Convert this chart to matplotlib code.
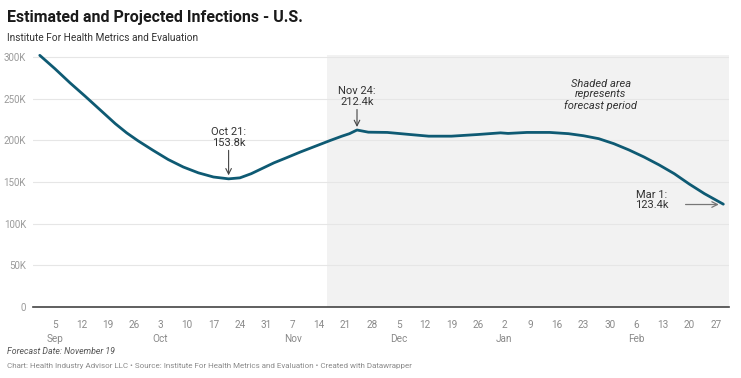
import matplotlib
matplotlib.use("Agg")
import matplotlib.pyplot as plt
import matplotlib.dates as mdates
import pandas as pd

plt.rcParams['font.family'] = ['Roboto', 'DejaVu Sans']

# data (thousands of infections)
dates = ["2021-09-01", "2021-09-05", "2021-09-09", "2021-09-13", "2021-09-17",
         "2021-09-21", "2021-09-24", "2021-09-27", "2021-10-01", "2021-10-05",
         "2021-10-09", "2021-10-13", "2021-10-17", "2021-10-21", "2021-10-24",
         "2021-10-27", "2021-10-30", "2021-11-02", "2021-11-05", "2021-11-09",
         "2021-11-13", "2021-11-17", "2021-11-20", "2021-11-22", "2021-11-24",
         "2021-11-27", "2021-12-02", "2021-12-08", "2021-12-13", "2021-12-19",
         "2021-12-26", "2022-01-01", "2022-01-03", "2022-01-08", "2022-01-14",
         "2022-01-19", "2022-01-23", "2022-01-27", "2022-01-31", "2022-02-04",
         "2022-02-08", "2022-02-12", "2022-02-16", "2022-02-20", "2022-02-24",
         "2022-03-01"]
infections = [302, 286, 269, 253, 236.5,
              220, 209, 199.5, 188, 177,
              168, 161, 156, 153.8, 155,
              160, 166.5, 173, 178.5, 186,
              193, 200, 205, 208, 212.4,
              209.8, 209.5, 207, 205, 205,
              207, 209, 208.3, 209.5, 209.5,
              208, 205.5, 202, 196, 188.5,
              180, 170.5, 160, 147.5, 136,
              123.4]
forecast_start = "2021-11-16"
yticks = [0, 50, 100, 150, 200, 250, 300]
ytick_labels = ["0", "50K", "100K", "150K", "200K", "250K", "300K"]

x = mdates.date2num(pd.to_datetime(dates))
y = [v * 1000 for v in infections]

fig = plt.figure(figsize=(7.41, 3.78), dpi=100)
ax = fig.add_axes([0.0445, 0.1878, 0.9393, 0.668])

sep5 = mdates.date2num(pd.Timestamp("2021-09-05"))
ax.set_xlim(sep5 - 5.8, sep5 + 178.5)
ax.set_ylim(0, 303000)

fs = mdates.date2num(pd.Timestamp(forecast_start))
ax.axvspan(fs, sep5 + 178.5, color="#f2f2f2", zorder=0, lw=0)

for t in yticks[1:]:
    ax.axhline(t * 1000, color="#e6e6e6", lw=0.8, zorder=1)
ax.axhline(0, color="#444444", lw=1.2, zorder=3, clip_on=False)

ax.plot(x, y, color="#0e5a73", lw=2.0, zorder=4, clip_on=False,
        solid_capstyle="round", solid_joinstyle="round")

for s in ax.spines.values():
    s.set_visible(False)

ax.set_yticks([t * 1000 for t in yticks])
ax.set_yticklabels(ytick_labels)
ax.tick_params(axis="y", length=0, pad=5, labelsize=7, labelcolor="#9a9a9a")

# weekly ticks, month name under first tick of each month
ticks = pd.date_range("2021-09-05", "2022-02-27", freq="7D")
labels = []
prev_month = None
for d in ticks:
    if d.month != prev_month:
        labels.append(f"{d.day}\n{d.strftime('%b')}")
        prev_month = d.month
    else:
        labels.append(str(d.day))
ax.set_xticks(mdates.date2num(ticks))
ax.set_xticklabels(labels, linespacing=1.5)
ax.tick_params(axis="x", length=0, pad=9, labelsize=7.2, labelcolor="#8a8a8a")

# annotations
ann = dict(ha="center", va="bottom", fontsize=8, color="#333333", linespacing=1.1)
arrow = dict(arrowstyle="->", color="#444444", lw=0.8, shrinkA=0, shrinkB=0)

d_oct = mdates.date2num(pd.Timestamp("2021-10-21"))
ax.annotate("", xy=(d_oct, 158000), xytext=(d_oct, 188000), arrowprops=arrow)
ax.text(d_oct, 191000, "Oct 21:\n153.8k", **ann)

d_nov = mdates.date2num(pd.Timestamp("2021-11-24"))
ax.annotate("", xy=(d_nov, 216000), xytext=(d_nov, 237000), arrowprops=arrow)
ax.text(d_nov, 240000, "Nov 24:\n212.4k", **ann)

d_mar = mdates.date2num(pd.Timestamp("2022-03-01"))
ax.annotate("", xy=(d_mar - 1.2, 123000), xytext=(d_mar - 10, 123000),
            arrowprops=dict(arrowstyle="->", color="#777777", lw=0.9, shrinkA=0, shrinkB=0))
ax.text(d_mar - 19, 116000, "Mar 1:\n123.4k", **ann)

ax.text(sep5 + 144.5, 235000, "Shaded area\nrepresents\nforecast period",
        ha="center", va="bottom", fontsize=8, color="#333333", style="italic",
        linespacing=1.1)

fig.text(0.0095, 0.955, "Estimated and Projected Infections - U.S.",
         fontsize=11.5, fontweight="bold", color="#1a1a1a", va="center", ha="left")
fig.text(0.0095, 0.899, "Institute For Health Metrics and Evaluation",
         fontsize=7.3, color="#333333", va="center", ha="left")
fig.text(0.0095, 0.069, "Forecast Date: November 19",
         fontsize=6.3, color="#555555", style="italic", va="center", ha="left")
fig.text(0.0095, 0.032,
         "Chart: Health Industry Advisor LLC \u2022 Source: Institute For Health Metrics and Evaluation \u2022 Created with Datawrapper",
         fontsize=5.8, color="#8a8a8a", va="center", ha="left")

fig.savefig("out.png", dpi=100, facecolor="white")
